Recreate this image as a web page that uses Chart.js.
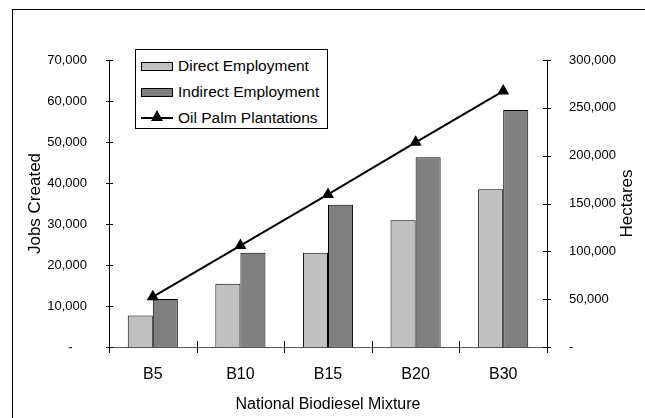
<!DOCTYPE html>
<html>
<head>
<meta charset="utf-8">
<script src="https://cdn.jsdelivr.net/npm/chart.js@4/dist/chart.umd.min.js"></script>
<style>
  html, body { margin: 0; padding: 0; background: #fff; overflow: hidden; }
  #wrap { position: relative; width: 645px; height: 418px; overflow: hidden; }
  #frame { position: absolute; left: 12px; top: 9px; width: 700px; height: 500px; border: 1px solid #000; }
  #chart { position: absolute; left: 0; top: 0; }
  #legend {
    position: absolute; left: 135px; top: 49px; width: 191px; height: 78px;
    border: 1px solid #000; background: #fff;
    font-family: "Liberation Sans", Arial, sans-serif; font-size: 15.5px; color: #000;
  }
  .legend__item { position: absolute; left: 0; height: 20px; display: flex; align-items: center; white-space: nowrap; }
  .legend__swatch { position: relative; width: 32px; margin-left: 5px; margin-right: 5px; }
</style>
</head>
<body>
<div id="wrap">
  <div id="frame"></div>
  <canvas id="chart" width="645" height="418"></canvas>
  <div id="legend"></div>
</div>
<script>
const categories = ['B5', 'B10', 'B15', 'B20', 'B30'];
const directJobs = [7700, 15400, 23000, 30900, 38500];
const indirectJobs = [11700, 23000, 34700, 46300, 57800];
const hectares = [52500, 106000, 159500, 214000, 267500];

const FONT = '"Liberation Sans", Arial, sans-serif';
const rightTitle = 'Hectares';

function fmtTick(value, pad) {
  if (value === 0) return pad ? '-    ' : '-';
  return value.toLocaleString('en-US');
}

// excel style tick marks crossing the axis lines + right title read upwards
const crossTicks = {
  id: 'crossTicks',
  afterDraw(chart) {
    const ctx = chart.ctx;
    const { x, y, y1 } = chart.scales;
    ctx.save();
    ctx.lineWidth = 1;
    ctx.strokeStyle = '#000';
    ctx.beginPath();
    y.ticks.forEach((t) => {
      const py = Math.round(y.getPixelForValue(t.value)) + 0.5;
      ctx.moveTo(y.right - 3, py);
      ctx.lineTo(y.right + 4, py);
    });
    y1.ticks.forEach((t) => {
      const py = Math.round(y1.getPixelForValue(t.value)) + 0.5;
      ctx.moveTo(y1.left - 4, py);
      ctx.lineTo(y1.left + 4, py);
    });
    for (let i = 0; i <= categories.length; i++) {
      const px = Math.round(x.getPixelForValue(i - 0.5)) + 0.5;
      ctx.moveTo(px, x.top - 6);
      ctx.lineTo(px, x.top + 6);
    }
    ctx.stroke();

    ctx.translate(y1.right - 18, (y1.top + y1.bottom) / 2);
    ctx.rotate(-Math.PI / 2);
    ctx.font = '17px ' + FONT;
    ctx.fillStyle = '#000';
    ctx.textAlign = 'center';
    ctx.textBaseline = 'middle';
    ctx.fillText(rightTitle, 0, 0);
    ctx.restore();
  },
};

const chart = new Chart(document.getElementById('chart'), {
  type: 'bar',
  data: {
    labels: categories,
    datasets: [
      {
        label: 'Direct Employment',
        data: directJobs,
        backgroundColor: '#C0C0C0',
        borderColor: '#000',
        borderWidth: 1,
        yAxisID: 'y',
        order: 2,
      },
      {
        label: 'Indirect Employment',
        data: indirectJobs,
        backgroundColor: '#808080',
        borderColor: '#000',
        borderWidth: 1,
        yAxisID: 'y',
        order: 2,
      },
      {
        type: 'line',
        label: 'Oil Palm Plantations',
        data: hectares,
        borderColor: '#000',
        borderWidth: 2,
        pointStyle: 'triangle',
        pointRadius: 7,
        pointBackgroundColor: '#000',
        pointBorderColor: '#000',
        pointBorderWidth: 0,
        tension: 0,
        yAxisID: 'y1',
        order: 1,
      },
    ],
  },
  options: {
    responsive: false,
    animation: false,
    layout: { padding: { top: 60, left: 0, right: 0, bottom: 0 } },
    datasets: { bar: { categoryPercentage: 0.572, barPercentage: 1 } },
    plugins: { legend: { display: false }, tooltip: { enabled: false } },
    scales: {
      x: {
        grid: { display: false },
        border: { display: true, color: '#555', width: 1 },
        ticks: { color: '#000', padding: 10, font: { family: FONT, size: 16 } },
        title: {
          display: true,
          text: 'National Biodiesel Mixture',
          color: '#000',
          font: { family: FONT, size: 16 },
          padding: { top: 0, bottom: 4 },
        },
        afterFit(scale) { scale.height = 71; },
      },
      y: {
        position: 'left',
        min: 0,
        max: 70000,
        grid: { display: false },
        border: { display: true, color: '#000', width: 1 },
        ticks: {
          stepSize: 10000,
          color: '#000',
          padding: 14,
          font: { family: FONT, size: 13 },
          callback: (v) => fmtTick(v, true),
        },
        title: {
          display: true,
          text: 'Jobs Created',
          color: '#000',
          font: { family: FONT, size: 17 },
          padding: { top: 25, bottom: 0 },
        },
        afterFit(scale) { scale.width = 109; },
      },
      y1: {
        position: 'right',
        min: 0,
        max: 300000,
        grid: { display: false },
        border: { display: true, color: '#000', width: 1 },
        ticks: {
          stepSize: 50000,
          color: '#000',
          padding: 14,
          font: { family: FONT, size: 13 },
          callback: (v) => fmtTick(v, false),
        },
        title: { display: false },
        afterFit(scale) { scale.width = 98; },
      },
    },
  },
  plugins: [crossTicks],
});

// legend box inside the plot, built from the datasets
const legend = document.getElementById('legend');
const rowTops = [6, 32, 58];
chart.data.datasets.forEach((ds, i) => {
  const item = document.createElement('div');
  item.className = 'legend__item';
  item.style.top = rowTops[i] + 'px';
  const sw = document.createElement('div');
  sw.className = 'legend__swatch';
  if (ds.type === 'line') {
    sw.style.height = '2px';
    sw.style.background = ds.borderColor;
    const tri = document.createElement('div');
    tri.style.cssText =
      'position:absolute;left:10px;top:-7px;width:0;height:0;' +
      'border-left:6px solid transparent;border-right:6px solid transparent;' +
      'border-bottom:11px solid ' + ds.pointBackgroundColor + ';';
    sw.appendChild(tri);
  } else {
    sw.style.height = '7px';
    sw.style.background = ds.backgroundColor;
    sw.style.border = '1px solid #000';
    sw.style.width = '30px';
  }
  const txt = document.createElement('span');
  txt.textContent = ds.label;
  item.append(sw, txt);
  legend.append(item);
});
</script>
</body>
</html>
